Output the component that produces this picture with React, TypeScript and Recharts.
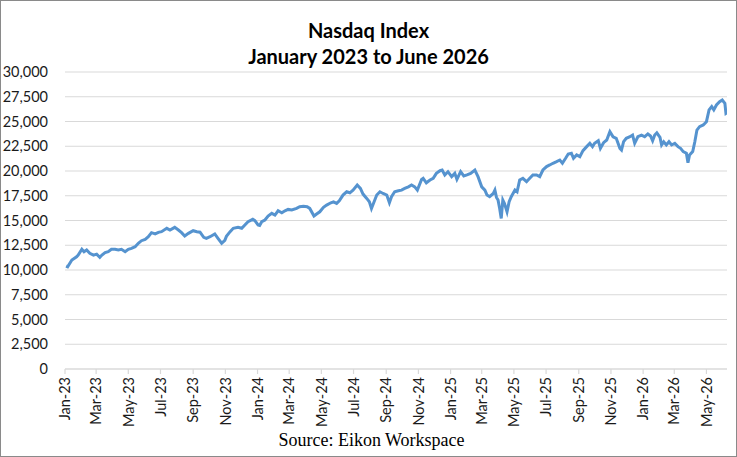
import React from 'react';
import { LineChart, Line, XAxis, YAxis, CartesianGrid } from 'recharts';

const titleLines = ['Nasdaq Index', 'January 2023 to June 2026'];
const sourceText = 'Source: Eikon Workspace';

const yTicks = [0, 2500, 5000, 7500, 10000, 12500, 15000, 17500, 20000, 22500, 25000, 27500, 30000];

const tickDates = [
  '2023-01-01', '2023-03-01', '2023-05-01', '2023-07-01', '2023-09-01', '2023-11-01',
  '2024-01-01', '2024-03-01', '2024-05-01', '2024-07-01', '2024-09-01', '2024-11-01',
  '2025-01-01', '2025-03-01', '2025-05-01', '2025-07-01', '2025-09-01', '2025-11-01',
  '2026-01-01', '2026-03-01', '2026-05-01',
];
const monthNames = ['Jan', 'Feb', 'Mar', 'Apr', 'May', 'Jun', 'Jul', 'Aug', 'Sep', 'Oct', 'Nov', 'Dec'];

const nasdaq2023: [string, number][] = [
  ['2023-01-03', 10400], ['2023-01-06', 10330], ['2023-01-14', 11010], ['2023-01-23', 11340],
  ['2023-01-26', 11500], ['2023-02-02', 12090], ['2023-02-06', 11850], ['2023-02-11', 12020],
  ['2023-02-17', 11690], ['2023-02-24', 11500], ['2023-03-02', 11600], ['2023-03-08', 11280],
  ['2023-03-12', 11510], ['2023-03-18', 11750], ['2023-03-24', 11850], ['2023-03-30', 12090],
  ['2023-04-06', 12090], ['2023-04-12', 12020], ['2023-04-18', 12090], ['2023-04-25', 11850],
  ['2023-05-01', 12090], ['2023-05-07', 12190], ['2023-05-14', 12350], ['2023-05-20', 12700],
  ['2023-05-26', 12960], ['2023-06-02', 13100], ['2023-06-08', 13360], ['2023-06-14', 13770],
  ['2023-06-21', 13640], ['2023-06-27', 13800], ['2023-07-03', 13870], ['2023-07-13', 14210],
  ['2023-07-19', 14040], ['2023-07-28', 14310], ['2023-08-04', 14040], ['2023-08-10', 13770],
  ['2023-08-16', 13430], ['2023-08-23', 13700], ['2023-09-01', 13970], ['2023-09-08', 13870],
  ['2023-09-14', 13820], ['2023-09-21', 13300], ['2023-09-26', 13200], ['2023-10-03', 13360],
  ['2023-10-12', 13640], ['2023-10-18', 13200], ['2023-10-25', 12700], ['2023-10-31', 13000],
  ['2023-11-03', 13400], ['2023-11-10', 13870], ['2023-11-16', 14210], ['2023-11-25', 14310],
  ['2023-12-02', 14210], ['2023-12-08', 14550], ['2023-12-14', 14880], ['2023-12-23', 15120],
  ['2023-12-27', 14980],
];

const nasdaq2024: [string, number][] = [
  ['2024-01-02', 14550], ['2024-01-05', 14500], ['2024-01-09', 14880], ['2024-01-15', 15050],
  ['2024-01-21', 15450], ['2024-01-28', 15720], ['2024-02-03', 15550], ['2024-02-09', 15980],
  ['2024-02-16', 15780], ['2024-02-22', 15980], ['2024-02-28', 16120], ['2024-03-06', 16060],
  ['2024-03-15', 16220], ['2024-03-21', 16390], ['2024-03-28', 16450], ['2024-04-04', 16390],
  ['2024-04-09', 16220], ['2024-04-17', 15450], ['2024-04-22', 15650], ['2024-04-28', 15880],
  ['2024-05-05', 16330], ['2024-05-11', 16560], ['2024-05-19', 16790], ['2024-05-24', 16890],
  ['2024-05-30', 16730], ['2024-06-04', 17000], ['2024-06-11', 17570], ['2024-06-18', 17900],
  ['2024-06-24', 17800], ['2024-06-30', 18070], ['2024-07-08', 18580], ['2024-07-14', 18240],
  ['2024-07-19', 17670], ['2024-07-26', 17230], ['2024-07-31', 16890], ['2024-08-04', 16220],
  ['2024-08-09', 16890], ['2024-08-14', 17570], ['2024-08-20', 17900], ['2024-08-26', 17730],
  ['2024-09-02', 17570], ['2024-09-07', 16790], ['2024-09-11', 17400], ['2024-09-17', 17900],
  ['2024-09-24', 18000], ['2024-09-30', 18070], ['2024-10-06', 18240], ['2024-10-13', 18400],
  ['2024-10-19', 18580], ['2024-10-25', 18400], ['2024-10-30', 18070], ['2024-11-07', 19150],
  ['2024-11-10', 19260], ['2024-11-16', 18810], ['2024-11-23', 19090], ['2024-11-29', 19260],
  ['2024-12-05', 19760], ['2024-12-12', 20030], ['2024-12-16', 20100], ['2024-12-21', 19600],
  ['2024-12-27', 19930],
];

const nasdaq2025: [string, number][] = [
  ['2025-01-03', 19430], ['2025-01-09', 19760], ['2025-01-13', 19150], ['2025-01-20', 19930],
  ['2025-01-26', 19500], ['2025-02-01', 19600], ['2025-02-08', 19760], ['2025-02-16', 20100],
  ['2025-02-22', 19430], ['2025-03-01', 18400], ['2025-03-07', 18070], ['2025-03-11', 17570],
  ['2025-03-16', 17400], ['2025-03-23', 17730], ['2025-03-26', 18070], ['2025-03-29', 17330],
  ['2025-04-01', 17060], ['2025-04-04', 16220], ['2025-04-07', 15210], ['2025-04-10', 17060],
  ['2025-04-13', 16730], ['2025-04-18', 15880], ['2025-04-22', 16890], ['2025-04-26', 17400],
  ['2025-05-03', 18070], ['2025-05-07', 17900], ['2025-05-12', 19090], ['2025-05-18', 19260],
  ['2025-05-25', 18920], ['2025-05-31', 19260], ['2025-06-06', 19600], ['2025-06-13', 19600],
  ['2025-06-19', 19430], ['2025-06-25', 20100], ['2025-07-02', 20450], ['2025-07-08', 20610],
  ['2025-07-14', 20780], ['2025-07-21', 20950], ['2025-07-27', 21110], ['2025-08-01', 20780],
  ['2025-08-07', 21280], ['2025-08-12', 21720], ['2025-08-18', 21790], ['2025-08-22', 21280],
  ['2025-08-28', 21620], ['2025-09-03', 21450], ['2025-09-09', 22060], ['2025-09-16', 22460],
  ['2025-09-22', 22800], ['2025-09-27', 22460], ['2025-10-01', 22800], ['2025-10-08', 23060],
  ['2025-10-12', 22290], ['2025-10-18', 22860], ['2025-10-24', 23130], ['2025-10-30', 23970],
  ['2025-11-05', 23460], ['2025-11-11', 23300], ['2025-11-18', 22290], ['2025-11-21', 22120],
  ['2025-11-25', 22960], ['2025-11-30', 23300], ['2025-12-07', 23460], ['2025-12-12', 23630],
  ['2025-12-16', 22800], ['2025-12-22', 23460], ['2025-12-29', 23630],
];

const nasdaq2026: [string, number][] = [
  ['2026-01-04', 23460], ['2026-01-10', 23740], ['2026-01-15', 23540], ['2026-01-19', 23060],
  ['2026-01-23', 23630], ['2026-01-27', 23860], ['2026-02-02', 23400], ['2026-02-05', 22630],
  ['2026-02-09', 22960], ['2026-02-14', 22630], ['2026-02-19', 22960], ['2026-02-24', 22630],
  ['2026-03-02', 22800], ['2026-03-08', 22460], ['2026-03-13', 22290], ['2026-03-18', 21960],
  ['2026-03-24', 21790], ['2026-03-27', 20840], ['2026-03-30', 21620], ['2026-04-05', 21960],
  ['2026-04-09', 22960], ['2026-04-13', 24140], ['2026-04-18', 24480], ['2026-04-25', 24650],
  ['2026-05-01', 24980], ['2026-05-06', 26170], ['2026-05-11', 26500], ['2026-05-15', 26170],
  ['2026-05-20', 26670], ['2026-05-26', 27000], ['2026-05-31', 27170], ['2026-06-05', 26840],
  ['2026-06-07', 25830], ['2026-06-09', 25900],
];

const BASE = Date.UTC(2023, 0, 1);
const dayOf = (iso: string) => Math.round((Date.parse(iso) - BASE) / 86400000);

const series = [...nasdaq2023, ...nasdaq2024, ...nasdaq2025, ...nasdaq2026];
const data = series.map(([date, close]) => ({ day: dayOf(date), close }));
const xTicks = tickDates.map(dayOf);
const lastDay = data[data.length - 1].day;

const labelFor = (day: number) => {
  const d = new Date(BASE + day * 86400000);
  return `${monthNames[d.getUTCMonth()]}-${String(d.getUTCFullYear()).slice(2)}`;
};

const FONT = 'Lato, "Noto Sans", sans-serif';

const RotatedTick = (props: any) => {
  const { x, y, payload } = props;
  return (
    <g transform={`translate(${x},${y})`}>
      <text
        transform="rotate(-90)"
        textAnchor="end"
        dy="0.36em"
        fontSize={14.5}
        fontFamily={FONT}
        fill="#1a1a1a"
      >
        {labelFor(payload.value)}
      </text>
    </g>
  );
};

export default function App() {
  return (
    <div
      style={{
        position: 'absolute',
        left: 0,
        top: 0,
        width: 737,
        height: 457,
        boxSizing: 'border-box',
        border: '1px solid #8a8a8a',
        background: '#fff',
        overflow: 'hidden',
      }}
    >
      <div style={{ position: 'absolute', left: -1, top: -1, width: 737, height: 457 }}>
        <LineChart
          width={737}
          height={457}
          data={data}
          margin={{ top: 72, right: 10, bottom: 38, left: 0 }}
        >
          <CartesianGrid vertical={false} stroke="#d9d9d9" strokeWidth={1.2} />
          <XAxis
            dataKey="day"
            type="number"
            domain={[0, lastDay]}
            ticks={xTicks}
            interval={0}
            height={50}
            tickSize={5}
            tickMargin={3}
            axisLine={{ stroke: '#d9d9d9', strokeWidth: 1.2 }}
            tickLine={{ stroke: '#d9d9d9', strokeWidth: 1.2 }}
            tick={<RotatedTick />}
            allowDataOverflow
          />
          <YAxis
            type="number"
            domain={[0, 30000]}
            ticks={yTicks}
            interval={0}
            width={65}
            axisLine={false}
            tickLine={false}
            tickSize={6}
            tickMargin={11}
            tick={{ fontSize: 14.5, fontFamily: FONT, fill: '#1a1a1a' }}
            tickFormatter={(v: number) => v.toLocaleString('en-US')}
          />
          <Line
            type="linear"
            dataKey="close"
            stroke="#5593CF"
            strokeWidth={3}
            dot={false}
            isAnimationActive={false}
          />
        </LineChart>
        <div
          style={{
            position: 'absolute',
            left: 0,
            top: 17,
            width: 737,
            textAlign: 'center',
            fontFamily: FONT,
            fontWeight: 700,
            fontSize: 20,
            lineHeight: '26px',
            color: '#000',
          }}
        >
          <div>{titleLines[0]}</div>
          <div>{titleLines[1]}</div>
        </div>
        <div
          style={{
            position: 'absolute',
            left: 0,
            top: 429,
            width: 743,
            textAlign: 'center',
            fontFamily: '"Liberation Serif", "DejaVu Serif", serif',
            fontSize: 18,
            lineHeight: '22px',
            color: '#000',
          }}
        >
          {sourceText}
        </div>
      </div>
    </div>
  );
}
